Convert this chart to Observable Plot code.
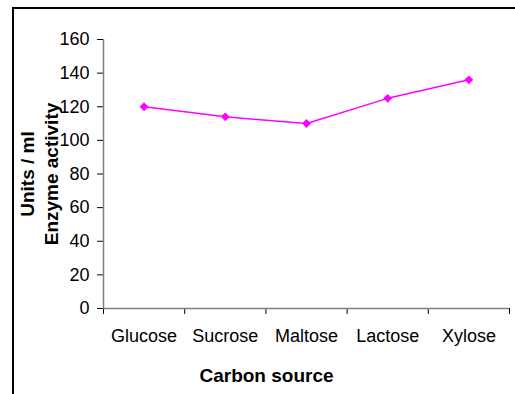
<!DOCTYPE html>
<html>
<head>
<meta charset="utf-8">
<script src="https://cdn.jsdelivr.net/npm/d3@7"></script>
<script src="https://cdn.jsdelivr.net/npm/@observablehq/plot@0.6"></script>
<style>
  html, body { margin: 0; padding: 0; background: #fff; }
  #chart { position: relative; width: 515px; height: 394px; }
  svg { font-family: Arial, "Liberation Sans", sans-serif; }
</style>
</head>
<body>
<div id="chart"></div>
<script>
const categories = ["Glucose", "Sucrose", "Maltose", "Lactose", "Xylose"];
const values = [120, 114, 110, 125, 136];
const yTicks = [0, 20, 40, 60, 80, 100, 120, 140, 160];
const xLabel = "Carbon source";
const yLabel = "Units / ml\nEnzyme activity";

const data = categories.map((c, i) => ({cat: c, pos: i + 0.5, value: values[i]}));
const boundaries = d3.range(categories.length + 1);

const plot = Plot.plot({
  width: 515,
  height: 394,
  marginLeft: 103,
  marginRight: 6,
  marginTop: 39,
  marginBottom: 86,
  style: {fontFamily: "Arial, 'Liberation Sans', sans-serif", background: "#fff", color: "#000"},
  x: {type: "linear", domain: [0, categories.length]},
  y: {domain: [0, 160]},
  marks: [
    Plot.axisY({ticks: yTicks, tickSize: 6, tickPadding: 8, fontSize: 18, label: null, stroke: "#000"}),
    Plot.axisX({ticks: boundaries, tickSize: 6, tickFormat: () => "", label: null, stroke: "#000"}),
    Plot.axisX({ticks: data.map(d => d.pos), tickSize: 0, tickPadding: 21, fontSize: 18,
                tickFormat: (d) => categories[Math.floor(d)], label: null}),
    Plot.ruleX([0], {stroke: "#808080", strokeWidth: 1.5}),
    Plot.ruleY([0], {stroke: "#808080", strokeWidth: 1.5}),
    Plot.line(data, {x: "pos", y: "value", stroke: "#ff00ff", strokeWidth: 1.5}),
    Plot.dot(data, {x: "pos", y: "value", symbol: "diamond2", r: 4, fill: "#ff00ff", stroke: "none"}),
    Plot.text([yLabel], {frameAnchor: "left", dx: -65, rotate: -90, fontSize: 19, fontWeight: "bold",
                         textAnchor: "middle", lineHeight: 1.26, lineAnchor: "middle", fill: "#000"}),
    Plot.text([xLabel], {frameAnchor: "bottom", dx: -40, dy: 73, fontSize: 19, fontWeight: "bold",
                         lineAnchor: "bottom", fill: "#000"})
  ]
});

// figure border (left and top edges of the chart area frame)
const svg = d3.select(plot);
svg.append("line").attr("x1", 13).attr("x2", 13).attr("y1", 7.5).attr("y2", 394)
  .attr("stroke", "#000").attr("stroke-width", 2);
svg.append("line").attr("x1", 12).attr("x2", 515).attr("y1", 8).attr("y2", 8)
  .attr("stroke", "#000").attr("stroke-width", 2);

document.getElementById("chart").appendChild(plot);
</script>
</body>
</html>
